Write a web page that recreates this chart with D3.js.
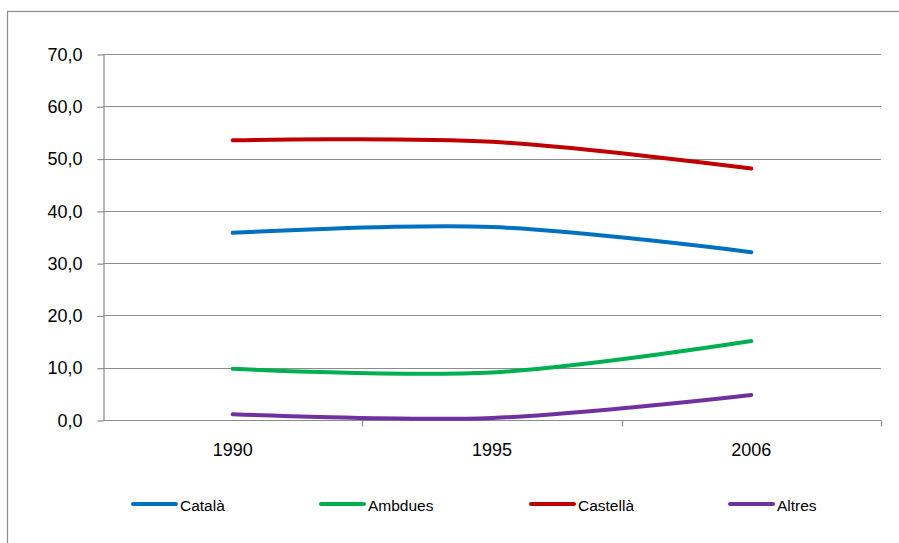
<!DOCTYPE html>
<html>
<head>
<meta charset="utf-8">
<script src="https://cdn.jsdelivr.net/npm/d3@7/dist/d3.min.js"></script>
<style>
  html, body { margin: 0; padding: 0; background: #fff; }
  svg { display: block; }
  text { font-family: "Liberation Sans", Arial, sans-serif; fill: #000; }
</style>
</head>
<body>
<svg id="chart" width="899" height="543"></svg>
<script>
// Language use by year (%)
const years = ["1990", "1995", "2006"];
const catala   = [35.8, 36.9, 32.1];
const ambdues  = [9.8, 9.1, 15.1];
const castella = [53.5, 53.2, 48.1];
const altres   = [1.1, 0.4, 4.8];
const yTicks = [0, 10, 20, 30, 40, 50, 60, 70];

const series = [
  { name: "Català",   values: catala,   color: "#0070C0" },
  { name: "Ambdues",  values: ambdues,  color: "#00B050" },
  { name: "Castellà", values: castella, color: "#C00000" },
  { name: "Altres",   values: altres,   color: "#7030A0" }
];

const svg = d3.select("#chart");
const W = 899, H = 543;
const plot = { left: 103, right: 881, top: 54, bottom: 420 };

// Outer chart frame (runs off the right and bottom edges)
svg.append("rect")
  .attr("x", 7.5).attr("y", 11.5)
  .attr("width", W + 20).attr("height", H + 20)
  .attr("fill", "none").attr("stroke", "#8c8c8c").attr("stroke-width", 1.2);

const x = d3.scaleBand().domain(years).range([plot.left, plot.right]);
const y = d3.scaleLinear().domain([0, 70]).range([plot.bottom, plot.top]);

const fmt = v => d3.format(".1f")(v).replace(".", ",");

// Horizontal gridlines
svg.append("g")
  .selectAll("line")
  .data(yTicks)
  .join("line")
  .attr("x1", plot.left).attr("x2", plot.right)
  .attr("y1", d => Math.round(y(d)) + 0.5).attr("y2", d => Math.round(y(d)) + 0.5)
  .attr("stroke", "#8c8c8c").attr("stroke-width", 1.2);

// Y axis
const yAxis = svg.append("g")
  .attr("transform", `translate(${plot.left + 0.5},0.5)`)
  .call(d3.axisLeft(y).tickValues(yTicks).tickFormat(fmt).tickSize(6).tickSizeOuter(0).tickPadding(15));
yAxis.select(".domain").attr("stroke", "#8c8c8c").attr("stroke-width", 1.2);
yAxis.selectAll(".tick line").attr("stroke", "#8c8c8c").attr("stroke-width", 1.2);
yAxis.selectAll(".tick text").style("font-size", "18px").attr("fill", "#000");

// X axis: ticks between categories
const xAxis = svg.append("g")
  .attr("transform", `translate(0,${plot.bottom + 0.5})`);
xAxis.append("line")
  .attr("x1", plot.left).attr("x2", plot.right)
  .attr("stroke", "#8c8c8c").attr("stroke-width", 1.2);
const bounds = years.map(d => x(d)).concat([x(years[years.length - 1]) + x.bandwidth()]);
xAxis.selectAll("line.tk")
  .data(bounds.slice(1))
  .join("line")
  .attr("class", "tk")
  .attr("x1", d => Math.round(d) + 0.5).attr("x2", d => Math.round(d) + 0.5)
  .attr("y1", 0).attr("y2", 6)
  .attr("stroke", "#8c8c8c").attr("stroke-width", 1.2);
xAxis.selectAll("text")
  .data(years)
  .join("text")
  .attr("x", d => x(d) + x.bandwidth() / 2)
  .attr("y", 35)
  .attr("text-anchor", "middle")
  .style("font-size", "18px")
  .text(d => d);

// Smoothed lines
const line = d3.line()
  .x((d, i) => x(years[i]) + x.bandwidth() / 2)
  .y(d => y(d))
  .curve(d3.curveCatmullRom.alpha(0));

svg.append("g")
  .selectAll("path")
  .data(series)
  .join("path")
  .attr("d", d => line(d.values))
  .attr("fill", "none")
  .attr("stroke", d => d.color)
  .attr("stroke-width", 4)
  .attr("stroke-linecap", "round")
  .attr("stroke-linejoin", "round");

// Legend
const legendX = [133, 321, 531, 730];
const lg = svg.append("g")
  .selectAll("g")
  .data(series)
  .join("g")
  .attr("transform", (d, i) => `translate(${legendX[i]},504)`);
lg.append("line")
  .attr("x1", 0).attr("x2", 43)
  .attr("stroke", d => d.color).attr("stroke-width", 4).attr("stroke-linecap", "round");
lg.append("text")
  .attr("x", 47).attr("y", 7)
  .style("font-size", "15.5px")
  .text(d => d.name);
</script>
</body>
</html>
